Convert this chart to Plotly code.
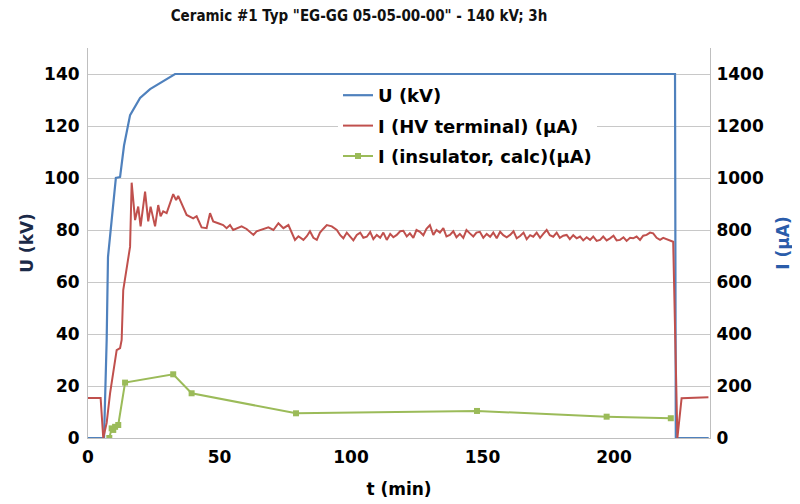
import plotly.graph_objects as go

# ---- data ----
u_t = [0, 5.7, 6.1, 7.1, 7.6, 9.0, 10.6, 12.2, 13.7, 16.0, 19.8, 23.6, 27.4, 31.2, 33.1, 223.2, 223.5, 236]
u_kv = [0, 0, 0, 37.7, 69.6, 83.8, 100, 100.4, 112.5, 124.2, 130.8, 134.2, 136.5, 138.8, 140, 140, 0, 0]

ihv_t = [0, 4.8, 5.8, 7.1, 8.4, 9.0, 10.3, 10.9, 12.2, 12.8, 13.4, 14.7, 16.0, 16.6, 17.9, 19.1, 20.0,
         21.7, 22.9, 23.8, 25.5, 26.7, 27.6, 28.6, 29.9, 32.4, 33.5, 34.3, 36.2, 37.5, 40.0, 41.3, 43.2,
         45.1, 46.4, 47.6, 49.5, 51.4, 52.7, 54.0, 55.2, 56.5, 58.4, 60.3, 62.9, 64.1, 66.7, 68.6, 70.5,
         72.4, 74.3, 76.2, 78.7, 80.0, 81.9, 83.2, 84.4, 85.7, 87.0, 88.2, 89.5, 90.8, 92.7, 94.6, 95.9,
         97.1, 98.4, 99.6, 100.9, 102.2, 103.5, 104.7, 106.0, 107.3, 108.5, 109.8, 111.1, 112.3, 113.6,
         114.9, 116.1, 117.4, 118.7, 119.9, 121.2, 122.4, 123.7, 124.9, 126.2, 127.5, 128.7, 130.0, 131.3,
         132.5, 133.8, 135.1, 136.3, 137.6, 138.9, 140.1, 141.4, 142.7, 143.9, 145.2, 146.5, 147.7, 149.0,
         150.3, 151.6, 152.9, 154.1, 155.4, 156.7, 157.9, 159.2, 160.5, 161.8, 163.0, 164.3, 165.6, 166.8,
         168.1, 169.3, 170.6, 171.9, 173.1, 174.4, 175.6, 176.9, 178.2, 179.4, 180.7, 182.0, 183.2, 184.5,
         185.8, 187.1, 188.3, 189.6, 190.9, 192.1, 193.4, 194.7, 195.9, 197.2, 198.5, 199.8, 201.0, 202.3,
         203.6, 204.8, 206.1, 207.3, 208.6, 209.9, 211.1, 212.4, 213.7, 214.9, 216.2, 217.5, 218.7, 220.0,
         221.3, 222.5, 224.1, 225.7, 235.9]
ihv_ua = [154, 154, 0, 58, 173, 215, 308, 338, 346, 377, 569, 659, 736, 982, 838, 890, 814,
          948, 833, 890, 814, 896, 853, 872, 865, 938, 915, 931, 890, 858, 845, 853, 810,
          807, 865, 833, 826, 819, 807, 819, 800, 807, 814, 804, 781, 795, 804, 810, 800,
          826, 807, 819, 762, 776, 762, 776, 795, 770, 762, 790, 805, 819, 814, 800, 780,
          768, 790, 774, 760, 781, 790, 770, 774, 792, 765, 781, 770, 790, 762,
          785, 772, 781, 795, 797, 775, 787, 770, 800, 793, 780, 805, 819, 781,
          800, 790, 807, 775, 781, 795, 772, 785, 770, 800, 787, 775, 790, 793,
          770, 785, 774, 790, 768, 793, 780, 772, 781, 795, 768, 777, 790, 765,
          780, 774, 790, 770, 785, 800, 780, 774, 790, 770, 778, 781, 765, 780,
          768, 775, 760, 772, 762, 775, 758, 762, 775, 760, 768, 778, 760, 762,
          772, 758, 770, 768, 775, 762, 778, 781, 790, 787, 770, 762, 770, 764,
          760, 755, 0, 153, 157]

iins_t = [8.1, 9.0, 9.6, 10.3, 11.5, 14.1, 32.4, 39.4, 79.1, 147.9, 197.2, 221.6]
iins_ua = [0, 37, 31, 43, 50, 213, 245, 172, 95, 104, 82, 76]

x_ticks = [0, 50, 100, 150, 200]
u_ticks = [0, 20, 40, 60, 80, 100, 120, 140]
i_ticks = [0, 200, 400, 600, 800, 1000, 1200, 1400]

fig = go.Figure()
fig.add_trace(go.Scatter(x=u_t, y=u_kv, mode="lines", name="U (kV)",
                         line=dict(color="#4F81BD", width=2.2), legendgroup="a"))
fig.add_trace(go.Scatter(x=ihv_t, y=ihv_ua, mode="lines", name="I (HV terminal) (\u00b5A)",
                         line=dict(color="#C0504D", width=2), yaxis="y2", legendgroup="b"))
fig.add_trace(go.Scatter(x=iins_t, y=iins_ua, mode="lines+markers", name="I (insulator, calc)(\u00b5A)",
                         line=dict(color="#9BBB59", width=2),
                         marker=dict(symbol="square", size=6, color="#9BBB59"),
                         yaxis="y2", legendgroup="c"))

# page has an 8px body margin: figure is drawn 8px right/down
W, H = 792, 496
FAM = "DejaVu Sans, Liberation Sans, Arial"
tickfont = dict(family=FAM, size=17, color="#000000", weight="bold")
titlefont = dict(family=FAM, size=17, color="#000000", weight="bold")
fig.update_layout(
    width=W, height=H,
    margin=dict(l=80, r=90, t=40, b=66, autoexpand=False),
    paper_bgcolor="white", plot_bgcolor="white",
    title=dict(text='Ceramic #1 Typ "EG-GG 05-05-00-00" - 140 kV; 3h',
               x=351/W, xanchor="center", y=1-8/H, yanchor="middle",
               font=dict(family="DejaVu Sans Condensed, Roboto, sans-serif", size=15, color="#111111", weight="bold")),
    xaxis=dict(range=[0, 236.5], tickvals=x_ticks, showgrid=False, zeroline=False, automargin=False,
               showline=True, linecolor="#bfbfbf", linewidth=1, ticks="", ticklabelstandoff=4,
               tickfont=tickfont,
               title=dict(text="t (min)", standoff=16, font=titlefont)),
    yaxis=dict(range=[0, 150], tickvals=u_ticks, showgrid=True, gridcolor="#c8c8c8", gridwidth=1,
               zeroline=False, showline=True, linecolor="#bfbfbf", ticks="", automargin=False,
               ticklabelstandoff=4, tickfont=tickfont,
               title=dict(text="U (kV)", standoff=6, font=dict(titlefont, color="#1b2a48"))),
    yaxis2=dict(range=[0, 1500], tickvals=i_ticks, overlaying="y", side="right", showgrid=False,
                zeroline=False, showline=True, linecolor="#bfbfbf", ticks="", automargin=False,
                ticklabelstandoff=2, tickfont=tickfont,
                title=dict(text="I (\u00b5A)", standoff=14, font=dict(titlefont, color="#2a5caa"))),
    legend=dict(x=(338-88)/622, xanchor="left", y=1-(77-48)/390, yanchor="top",
                bgcolor="white", borderwidth=0, traceorder="grouped", tracegroupgap=4,
                font=dict(family=FAM, size=18, color="#000000", weight="bold")),
    showlegend=True,
)

fig.write_html("out.html")
